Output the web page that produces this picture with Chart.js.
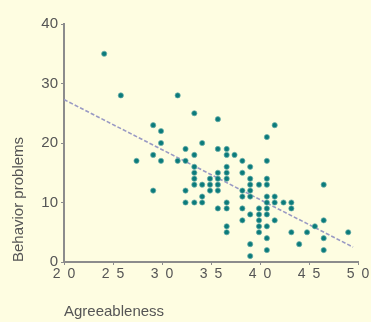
<!DOCTYPE html>
<html>
<head>
<meta charset="utf-8">
<script src="https://cdn.jsdelivr.net/npm/chart.js@4"></script>
<style>
  html, body { margin: 0; padding: 0; background: #fefde1; }
  #wrap { width: 371px; height: 322px; position: relative; }
</style>
</head>
<body>
<div id="wrap"><canvas id="scatter-chart"></canvas></div>
<script>
// agreeableness (x) and behavior problems (y), one entry per child
const agreeableness = [
  2.41, 2.58, 2.74,
  2.91, 2.91, 2.91,
  2.99, 2.99, 2.99,
  3.16, 3.16,
  3.24, 3.24, 3.24, 3.24,
  3.33, 3.33, 3.33, 3.33, 3.33, 3.33, 3.33,
  3.41, 3.41, 3.41, 3.41,
  3.49, 3.49, 3.49,
  3.57, 3.57, 3.57, 3.57, 3.57, 3.57, 3.57,
  3.66, 3.66, 3.66, 3.66, 3.66, 3.66, 3.66, 3.66, 3.66,
  3.74,
  3.82, 3.82, 3.82, 3.82, 3.82, 3.82,
  3.90, 3.90, 3.90, 3.90, 3.90, 3.90, 3.90, 3.90,
  3.99, 3.99, 3.99, 3.99, 3.99, 3.99,
  4.07, 4.07, 4.07, 4.07, 4.07, 4.07, 4.07, 4.07, 4.07, 4.07, 4.07,
  4.15, 4.15, 4.15, 4.15,
  4.24,
  4.32, 4.32, 4.32,
  4.40, 4.48, 4.56,
  4.65, 4.65, 4.65, 4.65,
  4.90
];
const behaviorProblems = [
  35, 28, 17,
  23, 18, 12,
  22, 20, 17,
  28, 17,
  19, 17, 12, 10,
  25, 18, 16, 15, 14, 13, 10,
  20, 13, 11, 10,
  14, 13, 12,
  24, 19, 15, 14, 13, 12, 9,
  19, 18, 16, 15, 14, 10, 9, 6, 5,
  18,
  17, 15, 12, 11, 9, 7,
  16, 14, 13, 12, 11, 8, 3, 1,
  13, 9, 8, 7, 6, 5,
  21, 17, 14, 13, 11, 10, 9, 8, 6, 4, 2,
  23, 11, 10, 7,
  10,
  10, 9, 5,
  3, 5, 6,
  13, 7, 4, 2,
  5
];

// end points of the fitted line
const fitX = [2.0, 4.95];
const fitY = [27.3, 2.5];

const xTickLabels = ['2\u20020', '2\u20025', '3\u20020', '3\u20025', '4\u20020', '4\u20025', '5\u20020'];
const yTickLabels = ['0', '10', '20', '30', '40'];

const points = agreeableness.map((a, i) => ({ x: a, y: behaviorProblems[i] }));
const fitLine = fitX.map((x, i) => ({ x: x, y: fitY[i] }));

const axisGray = '#8c8c8c';
const textGray = '#555';

const ctx = document.getElementById('scatter-chart').getContext('2d');
new Chart(ctx, {
  type: 'scatter',
  data: {
    datasets: [
      {
        label: 'Children',
        data: points,
        backgroundColor: '#0b7b7b',
        borderColor: 'rgba(110, 175, 170, 0.7)',
        borderWidth: 1,
        pointRadius: 2.6,
        order: 1
      },
      {
        label: 'Fit',
        type: 'line',
        data: fitLine,
        borderColor: '#9a9ac4',
        borderWidth: 1.6,
        borderDash: [4, 2],
        pointRadius: 0,
        fill: false,
        order: 2
      }
    ]
  },
  options: {
    responsive: true,
    maintainAspectRatio: false,
    animation: false,
    layout: { padding: { top: 24, right: 13, left: 0, bottom: 0 } },
    plugins: {
      legend: { display: false },
      tooltip: { enabled: false }
    },
    scales: {
      x: {
        type: 'linear',
        min: 2,
        max: 5,
        afterFit: (scale) => { scale.height = 60; },
        ticks: {
          stepSize: 0.5,
          color: textGray,
          padding: 1,
          font: { family: 'Liberation Sans', size: 14 },
          callback: (value, index) => xTickLabels[index]
        },
        grid: { drawOnChartArea: false, drawTicks: true, tickLength: 3, color: axisGray },
        border: { color: axisGray, width: 2 },
        title: {
          display: true,
          text: 'Agreeableness',
          align: 'start',
          color: textGray,
          font: { family: 'Liberation Sans', size: 15 },
          padding: { top: 0, bottom: 1 }
        }
      },
      y: {
        min: 0,
        max: 40,
        afterFit: (scale) => { scale.width = 64; },
        ticks: {
          stepSize: 10,
          color: textGray,
          padding: 3,
          font: { family: 'Liberation Sans', size: 15 },
          callback: (value, index) => yTickLabels[index]
        },
        grid: { drawOnChartArea: false, drawTicks: true, tickLength: 3, color: axisGray },
        border: { color: axisGray, width: 2 },
        title: {
          display: true,
          text: 'Behavior problems',
          align: 'start',
          color: textGray,
          font: { family: 'Liberation Sans', size: 15 },
          padding: { top: 10, bottom: 0 }
        }
      }
    }
  }
});
</script>
</body>
</html>
